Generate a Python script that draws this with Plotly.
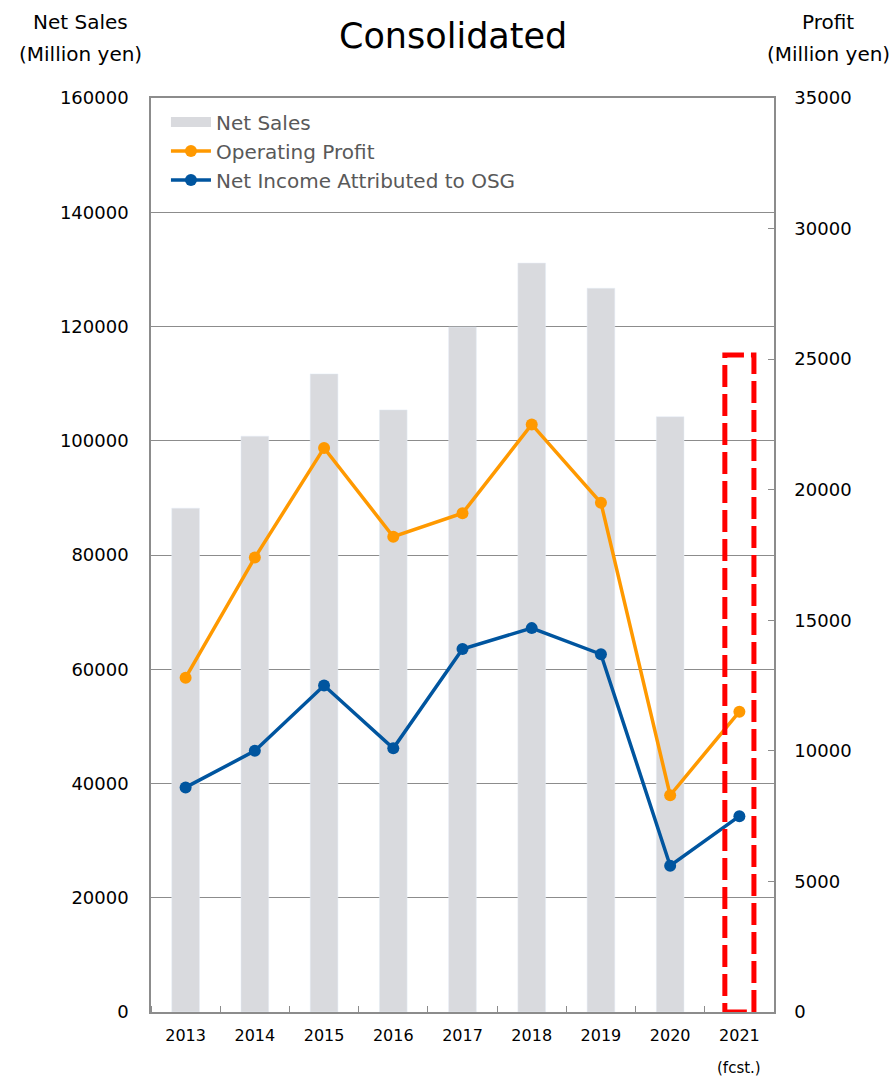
import plotly.graph_objects as go

years = ["2013", "2014", "2015", "2016", "2017", "2018", "2019", "2020", "2021"]
net_sales = [88200, 100800, 111700, 105400, 119900, 131100, 126700, 104200, None]
operating_profit = [12800, 17400, 21600, 18200, 19100, 22500, 19500, 8300, 11500]
net_income = [8600, 10000, 12500, 10100, 13900, 14700, 13700, 5600, 7500]
forecast_year = "2021"
forecast_sales = 115000

left_ticks = [0, 20000, 40000, 60000, 80000, 100000, 120000, 140000, 160000]
right_ticks = [0, 5000, 10000, 15000, 20000, 25000, 30000, 35000]

FONT = "DejaVu Sans"
AXIS_GRAY = "#8c8c8c"
BAR_COLOR = "#D9DADE"
ORANGE = "#FF9900"
BLUE = "#00559F"

xpos = list(range(len(years)))

fig = go.Figure()
fig.add_trace(go.Bar(x=xpos, y=net_sales, name="Net Sales", marker_color=BAR_COLOR,
                     width=0.4, yaxis="y", showlegend=False))
# legend entry for the bars, drawn as a wide swatch
fig.add_trace(go.Scatter(x=[None], y=[None], name="Net Sales", mode="lines",
                         line=dict(color=BAR_COLOR, width=14), yaxis="y", showlegend=True))
fig.add_trace(go.Scatter(x=xpos, y=operating_profit, name="Operating Profit", mode="lines+markers",
                         line=dict(color=ORANGE, width=3.5), marker=dict(size=12, color=ORANGE),
                         yaxis="y2"))
fig.add_trace(go.Scatter(x=xpos, y=net_income, name="Net Income Attributed to OSG", mode="lines+markers",
                         line=dict(color=BLUE, width=3.5), marker=dict(size=12, color=BLUE),
                         yaxis="y2"))

fi = years.index(forecast_year)
fig.add_shape(type="rect", xref="x", yref="y", x0=fi - 0.21, x1=fi + 0.21, y0=0, y1=forecast_sales,
              line=dict(color="#FF0000", width=5, dash="22px,7px"), fillcolor="rgba(0,0,0,0)",
              layer="above")

L, R, T, B = 151, 121, 98, 65
W, H = 895, 1077


def px_to_paper(xp, yp):
    return (xp - L) / (W - L - R), 1 - (yp - T) / (H - T - B)


anns = []
for txt, xp, yp, size in [("Consolidated", 453, 36, 35),
                          ("Net Sales", 80, 22, 20), ("(Million yen)", 80, 54, 20),
                          ("Profit", 828, 22, 20), ("(Million yen)", 828, 54, 20)]:
    px, py = px_to_paper(xp, yp)
    anns.append(dict(text=txt, x=px, y=py, xref="paper", yref="paper", showarrow=False,
                     xanchor="center", yanchor="middle", font=dict(size=size, family=FONT, color="black")))
fx, fy = px_to_paper(739, 1068)
anns.append(dict(text="(fcst.)", x=fi, y=fy, xref="x", yref="paper", showarrow=False,
                 xanchor="center", yanchor="middle", font=dict(size=15, family=FONT, color="black")))

fig.update_layout(
    width=W, height=H,
    margin=dict(l=L, r=R, t=T, b=B, autoexpand=False),
    paper_bgcolor="white", plot_bgcolor="white",
    font=dict(family=FONT, color="black"),
    showlegend=True,
    legend=dict(x=0.024, y=0.995, xanchor="left", yanchor="top",
                font=dict(size=20, color="#595959"), bgcolor="rgba(0,0,0,0)",
                tracegroupgap=0, itemwidth=40),
    xaxis=dict(range=[-0.5, len(years) - 0.5], tickvals=xpos, ticktext=years, automargin=False,
               showline=True, linecolor=AXIS_GRAY, linewidth=1.5, mirror=True,
               ticks="", tickfont=dict(size=16, family=FONT), ticklabelstandoff=8, showgrid=False,
               zeroline=False,
               minor=dict(tick0=0.5, dtick=1, ticks="inside", ticklen=6, tickcolor=AXIS_GRAY,
                          showgrid=False)),
    yaxis=dict(range=[0, 160000], tickvals=left_ticks, tickformat="d", automargin=False,
               showline=True, linecolor=AXIS_GRAY, linewidth=1.5,
               showgrid=True, gridcolor=AXIS_GRAY, gridwidth=1, zeroline=False, ticks="",
               tickfont=dict(size=18, family=FONT), ticklabelstandoff=17),
    yaxis2=dict(range=[0, 35000], tickvals=right_ticks, tickformat="d", automargin=False,
                overlaying="y", side="right", showline=True,
                linecolor=AXIS_GRAY, linewidth=1.5, showgrid=False, zeroline=False,
                ticks="inside", ticklen=6, tickcolor=AXIS_GRAY,
                tickfont=dict(size=18, family=FONT), ticklabelstandoff=15),
    annotations=anns,
)

fig.write_html("out.html", config={"displayModeBar": False},
               post_script="document.body.style.margin='0px';document.body.style.padding='0px';")
